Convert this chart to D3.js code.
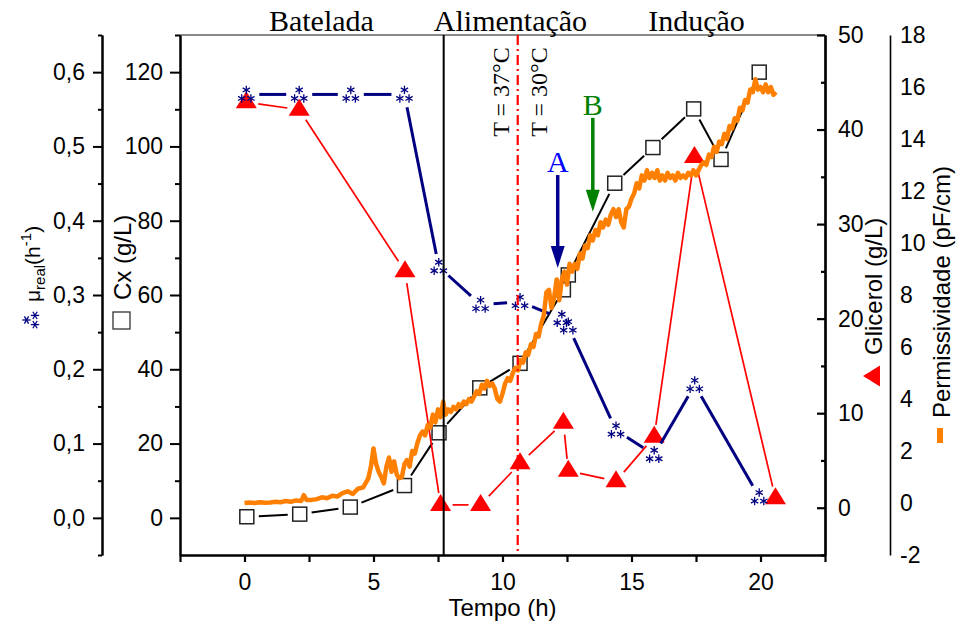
<!DOCTYPE html>
<html>
<head>
<meta charset="utf-8">
<script src="https://cdn.jsdelivr.net/npm/d3@7"></script>
<style>
  body { margin: 0; background: #fff; }
  svg { display: block; }
  .tick text { font-family: "Liberation Sans", Arial, sans-serif; font-size: 23px; fill: #000; }
</style>
</head>
<body>
<div id="root"></div>
<script>

// Cx (g/L), open squares
const cxTime = [0.09, 2.14, 4.1, 6.2, 7.54, 9.12, 10.68, 12.36, 12.55, 14.35, 15.83, 17.41, 18.47, 19.95];
const cxVal  = [0.3, 1.0, 2.9, 8.7, 22.9, 35.0, 41.6, 61.4, 65.4, 90.1, 99.7, 110.1, 96.5, 120.0];

// Glicerol (g/L), red triangles
const glyTime = [0.07, 2.12, 6.22, 7.6, 9.15, 10.68, 12.36, 12.55, 14.4, 15.88, 17.44, 20.58];
const glyVal  = [42.9, 42.1, 25.0, 0.3, 0.3, 4.7, 9.0, 3.9, 2.8, 7.5, 37.1, 1.0];

// mu real (h^-1), navy stars
const muTime = [0.07, 2.12, 4.12, 6.2, 7.53, 9.15, 10.68, 12.3, 12.55, 14.4, 15.88, 17.45, 19.95];
const muVal  = [0.570, 0.570, 0.570, 0.570, 0.338, 0.287, 0.291, 0.268, 0.258, 0.118, 0.085, 0.179, 0.028];

// Permissividade (pF/cm), orange trace
const permTime = [0, 0.2, 0.4, 0.6, 0.8, 1.0, 1.2, 1.4, 1.6, 1.8, 2.0, 2.2, 2.3, 2.4, 2.6, 2.8, 3.0, 3.2, 3.4, 3.6, 3.8,
  4.0, 4.2, 4.4, 4.6, 4.8, 4.9, 5.0, 5.1, 5.2, 5.3, 5.4, 5.5, 5.6, 5.7, 5.8, 5.9, 6.0, 6.1, 6.2, 6.3, 6.4, 6.5, 6.6, 6.7, 6.8, 6.9,
  7.0, 7.1, 7.2, 7.3, 7.4, 7.5, 7.6, 7.7, 7.8, 7.9, 8.0, 8.1, 8.2, 8.3, 8.4, 8.5, 8.6, 8.7, 8.8, 8.9, 9.0, 9.1, 9.2, 9.3, 9.4, 9.5, 9.6, 9.7, 9.8, 9.9,
  10.0, 10.1, 10.2, 10.3, 10.4, 10.5, 10.6, 10.7, 10.8, 10.9, 11.0, 11.1, 11.2, 11.3, 11.4, 11.5, 11.6, 11.7, 11.8, 11.9,
  12.0, 12.1, 12.2, 12.3, 12.4, 12.5, 12.6, 12.7, 12.8, 12.9, 13.0, 13.1, 13.2, 13.3, 13.4, 13.5, 13.6, 13.7, 13.8, 13.9,
  14.0, 14.1, 14.2, 14.3, 14.4, 14.5, 14.6, 14.7, 14.8, 14.9, 15.0, 15.1, 15.2, 15.3, 15.4, 15.5, 15.6, 15.7, 15.8, 15.9,
  16.0, 16.1, 16.2, 16.3, 16.4, 16.5, 16.6, 16.7, 16.8, 16.9, 17.0, 17.1, 17.2, 17.3, 17.4, 17.5, 17.6, 17.7, 17.8, 17.9,
  18.0, 18.1, 18.2, 18.3, 18.4, 18.5, 18.6, 18.7, 18.8, 18.9, 19.0, 19.1, 19.2, 19.3, 19.4, 19.5, 19.6, 19.7, 19.8, 19.9,
  20.0, 20.1, 20.2, 20.3, 20.4, 20.5, 20.6];
const permVal = [0.0, 0.02, 0.0, 0.03, 0.01, 0.02, 0.05, 0.03, 0.08, 0.05, 0.1, 0.08, 0.3, 0.12, 0.12, 0.15, 0.22, 0.18, 0.28, 0.25, 0.38,
  0.45, 0.35, 0.55, 0.6, 0.95, 1.4, 2.1, 1.5, 1.2, 1.0, 0.75, 1.4, 1.75, 1.2, 1.6, 1.1, 0.95, 1.0, 1.5, 1.65, 1.4, 2.0, 1.9, 2.3, 2.6, 2.75,
  2.6, 3.0, 2.9, 3.4, 3.1, 3.6, 3.3, 3.9, 3.4, 3.6, 3.5, 3.7, 3.6, 3.8, 3.7, 3.9, 3.8, 4.0, 3.9, 4.1, 4.3, 4.2, 4.55, 4.4, 4.7, 4.5, 4.6, 4.4, 4.0, 3.9,
  4.2, 4.6, 4.8, 4.7, 5.0, 5.2, 5.1, 5.5, 5.4, 5.8, 5.7, 6.1, 6.0, 6.5, 6.4, 6.9, 7.2, 8.1, 8.2, 7.5,
  7.9, 8.6, 7.8, 8.6, 8.9, 8.4, 9.2, 8.9, 9.2, 9.0, 9.6, 9.4, 9.9, 9.8, 10.3, 10.1, 10.5, 10.3, 10.8, 10.6,
  10.9, 10.7, 11.1, 11.3, 11.0, 11.3, 10.8, 10.6, 11.3, 11.4, 11.7, 11.9, 12.3, 12.1, 12.6, 12.4, 12.8, 12.5, 12.7, 12.5,
  12.8, 12.4, 12.6, 12.4, 12.7, 12.5, 12.6, 12.4, 12.7, 12.5, 12.6, 12.5, 12.7, 12.6, 12.8, 12.6, 12.8, 13.0, 13.1, 13.0,
  13.4, 13.3, 13.7, 13.5, 13.9, 13.8, 14.2, 14.0, 14.5, 14.4, 14.8, 14.7, 15.2, 15.1, 15.5, 15.4, 15.9, 15.8, 16.3, 15.9,
  16.0, 15.8, 16.1, 15.8, 16.0, 15.7, 15.8];

// ticks
const xTicks = [0, 5, 10, 15, 20];
const xMinor = [-2.5, 2.5, 7.5, 12.5, 17.5, 22.5];
const cxTicks = [0, 20, 40, 60, 80, 100, 120];
const cxMinor = [10, 30, 50, 70, 90, 110, 130];
const muTicks = [0, 0.1, 0.2, 0.3, 0.4, 0.5, 0.6];
const muMinor = [-0.05, 0.05, 0.15, 0.25, 0.35, 0.45, 0.55, 0.65];
const glyTicks = [0, 10, 20, 30, 40, 50];
const glyMinor = [-5, 5, 15, 25, 35, 45];
const permTicks = [-2, 0, 2, 4, 6, 8, 10, 12, 14, 16, 18];

// phases / annotations
const phaseNames = ["Batelada", "Alimentação", "Indução"];
const phaseCenter = [2.98, 10.31, 17.52];
const feedStart = 7.72;
const tempChange = 10.59;

const width = 959;
const height = 625;

const svg = d3.select("#root")
  .append("svg")
    .attr("width", width)
    .attr("height", height);

const x = d3.scaleLinear().domain([-2.5, 22.5]).range([180, 825]);
const yCx = d3.scaleLinear().domain([-10, 130]).range([555, 35]);
const yMu = d3.scaleLinear().domain([-0.05, 0.65]).range([555, 35]);
const yGly = d3.scaleLinear().domain([-5, 50]).range([555, 35]);
const yPerm = d3.scaleLinear().domain([-2, 18]).range([555, 35]);

const comma = d => d3.format(".1f")(d).replace(".", ",");
const plain = d => String(d);
const sans = '"Liberation Sans", Arial, sans-serif';
const serif = '"Liberation Serif", "Times New Roman", serif';

const styleAxis = (g, w) => {
  g.selectAll("path, line").attr("stroke", "#000").attr("stroke-width", w);
};

// top border (grey)
svg.append("line")
  .attr("x1", 180).attr("x2", 825).attr("y1", 35).attr("y2", 35)
  .attr("stroke", "#8a8a8a").attr("stroke-width", 2);

// x axis
svg.append("g").attr("transform", "translate(0,555)")
  .call(d3.axisBottom(x).tickValues(xTicks).tickSize(7).tickSizeOuter(0).tickPadding(12).tickFormat(plain))
  .call(g => styleAxis(g, 2.2));
svg.append("g").attr("transform", "translate(0,555)")
  .call(d3.axisBottom(x).tickValues(xMinor).tickSize(7).tickSizeOuter(0).tickFormat(""))
  .call(g => styleAxis(g, 2.2));

// Cx axis
svg.append("g").attr("transform", "translate(180,0)")
  .call(d3.axisLeft(yCx).tickValues(cxTicks).tickSize(10).tickSizeOuter(0).tickPadding(7).tickFormat(plain))
  .call(g => styleAxis(g, 2));
svg.append("g").attr("transform", "translate(180,0)")
  .call(d3.axisLeft(yCx).tickValues(cxMinor).tickSize(5).tickSizeOuter(0).tickFormat(""))
  .call(g => styleAxis(g, 2));

// mu axis
svg.append("g").attr("transform", "translate(102,0)")
  .call(d3.axisLeft(yMu).tickValues(muTicks).tickSize(9).tickSizeOuter(0).tickPadding(8).tickFormat(comma))
  .call(g => styleAxis(g, 2));
svg.append("g").attr("transform", "translate(102,0)")
  .call(d3.axisLeft(yMu).tickValues(muMinor).tickSize(4).tickSizeOuter(0).tickFormat(""))
  .call(g => styleAxis(g, 2));

// glicerol axis (ticks point inward)
svg.append("g").attr("transform", "translate(825,0)")
  .call(d3.axisRight(yGly).tickValues(glyTicks).tickSizeInner(-8).tickSizeOuter(0).tickPadding(13).tickFormat(plain))
  .call(g => styleAxis(g, 2.2));
svg.append("g").attr("transform", "translate(825,0)")
  .call(d3.axisRight(yGly).tickValues(glyMinor).tickSizeInner(-4).tickSizeOuter(0).tickFormat(""))
  .call(g => styleAxis(g, 2.2));

// permissividade axis
svg.append("g").attr("transform", "translate(890,0)")
  .call(d3.axisRight(yPerm).tickValues(permTicks).tickSize(0).tickPadding(10).tickFormat(plain))
  .call(g => styleAxis(g, 1.6));

// line segments with a gap round each marker
const gapSegs = (pts, gap) => d3.pairs(pts).map(([a, b]) => {
  const dx = b[0] - a[0], dy = b[1] - a[1];
  const len = Math.hypot(dx, dy);
  if (len <= 2 * gap) return null;
  const ux = dx / len, uy = dy / len;
  return [a[0] + ux * gap, a[1] + uy * gap, b[0] - ux * gap, b[1] - uy * gap];
}).filter(s => s);

const drawSegs = (pts, gap, color, w) => {
  svg.append("g")
    .selectAll("line")
    .data(gapSegs(pts, gap))
    .join("line")
      .attr("x1", d => d[0]).attr("y1", d => d[1])
      .attr("x2", d => d[2]).attr("y2", d => d[3])
      .attr("stroke", color)
      .attr("stroke-width", w);
};

const trianglePath = "M0,-11L10.5,6L-10.5,6Z";

const drawStar = (g, color) => {
  [[0, -4.5], [-4.6, 4], [4.6, 4]].forEach(([ox, oy]) => {
    [90, 30, 150].forEach(a => {
      const r = 4.2, rad = a * Math.PI / 180;
      g.append("line")
        .attr("x1", ox - r * Math.cos(rad)).attr("y1", oy - r * Math.sin(rad))
        .attr("x2", ox + r * Math.cos(rad)).attr("y2", oy + r * Math.sin(rad))
        .attr("stroke", color).attr("stroke-width", 1.3);
    });
  });
};

// Cx series
const cxPts = cxTime.map((t, i) => [x(t), yCx(cxVal[i])]);
drawSegs(cxPts, 12, "#000", 2);
svg.append("g")
  .selectAll("rect")
  .data(cxPts)
  .join("rect")
    .attr("x", d => d[0] - 7).attr("y", d => d[1] - 7)
    .attr("width", 14).attr("height", 14)
    .attr("fill", "none")
    .attr("stroke", "#222")
    .attr("stroke-width", 1.5);

// glicerol series
const glyPts = glyTime.map((t, i) => [x(t), yGly(glyVal[i])]);
drawSegs(glyPts, 12, "#ff0000", 1.7);
svg.append("g")
  .selectAll("path")
  .data(glyPts)
  .join("path")
    .attr("d", trianglePath)
    .attr("transform", d => `translate(${ d[0] }, ${ d[1] })`)
    .attr("fill", "#ff0000");

// mu series
const muPts = muTime.map((t, i) => [x(t), yMu(muVal[i])]);
drawSegs(muPts, 13, "#000080", 3);
svg.append("g")
  .selectAll("g")
  .data(muPts)
  .join("g")
    .attr("transform", d => `translate(${ d[0] }, ${ d[1] })`)
    .each(function() { drawStar(d3.select(this), "#000080"); });

// permissividade trace
const permLine = d3.line()
  .x((d, i) => x(permTime[i]))
  .y(d => yPerm(d));
svg.append("path")
  .datum(permVal)
  .attr("d", permLine)
  .attr("fill", "none")
  .attr("stroke", "#ff8000")
  .attr("stroke-width", 4.5)
  .attr("stroke-linejoin", "round");

// phase separators
svg.append("line")
  .attr("x1", x(feedStart)).attr("x2", x(feedStart)).attr("y1", 35).attr("y2", 555)
  .attr("stroke", "#000").attr("stroke-width", 2);
svg.append("line")
  .attr("x1", x(tempChange)).attr("x2", x(tempChange)).attr("y1", 35).attr("y2", 555)
  .attr("stroke", "#ff0000").attr("stroke-width", 2.2)
  .attr("stroke-dasharray", "10,4,2,4");

// phase names
svg.append("g")
  .selectAll("text")
  .data(phaseNames)
  .join("text")
    .attr("x", (d, i) => x(phaseCenter[i]))
    .attr("y", 31)
    .attr("text-anchor", "middle")
    .attr("font-family", serif)
    .attr("font-size", 30)
    .text(d => d);

// temperature labels
[["T = 37°C", 10.27], ["T = 30°C", 11.74]].forEach(([label, t]) => {
  svg.append("text")
    .attr("transform", `translate(${ x(t) }, 92) rotate(-90)`)
    .attr("text-anchor", "middle")
    .attr("font-family", serif)
    .attr("font-size", 24)
    .text(label);
});

// arrows A and B
const arrow = (t, cTop, cTip, color, labelColor, label) => {
  const ax = x(t), y0 = yCx(cTop), y1 = yCx(cTip);
  svg.append("line")
    .attr("x1", ax).attr("x2", ax).attr("y1", y0).attr("y2", y1 - 18)
    .attr("stroke", color).attr("stroke-width", 3.5);
  svg.append("path")
    .attr("d", `M${ ax - 7 },${ y1 - 22 }L${ ax + 7 },${ y1 - 22 }L${ ax },${ y1 }Z`)
    .attr("fill", color);
  svg.append("text")
    .attr("x", ax).attr("y", y0 - 3)
    .attr("text-anchor", "middle")
    .attr("font-family", serif)
    .attr("font-size", 30)
    .attr("fill", labelColor)
    .text(label);
};
arrow(12.14, 92.3, 67.3, "#000090", "#0000ff", "A");
arrow(13.5, 107.7, 82.4, "#008000", "#008000", "B");

// axis titles
svg.append("text")
  .attr("x", x(10)).attr("y", 616)
  .attr("text-anchor", "middle")
  .attr("font-family", sans).attr("font-size", 24)
  .text("Tempo (h)");

const cxTitle = svg.append("g").attr("transform", "translate(131,329) rotate(-90)");
cxTitle.append("rect")
  .attr("x", 0).attr("y", -18).attr("width", 17).attr("height", 17)
  .attr("fill", "none").attr("stroke", "#333").attr("stroke-width", 1.3);
cxTitle.append("text")
  .attr("x", 29).attr("y", 0)
  .attr("font-family", sans).attr("font-size", 24)
  .text("Cx (g/L)");

const muTitle = svg.append("g").attr("transform", "translate(40,330) rotate(-90)");
drawStar(muTitle.append("g").attr("transform", "translate(10,-9)"), "#000080");
const muText = muTitle.append("text")
  .attr("x", 28).attr("y", 0)
  .attr("font-family", sans).attr("font-size", 21);
muText.append("tspan").text("μ");
muText.append("tspan").attr("dy", 5).attr("font-size", 15).text("real");
muText.append("tspan").attr("dy", -5).text("(h");
muText.append("tspan").attr("dy", -9).attr("font-size", 15).text("-1");
muText.append("tspan").attr("dy", 9).text(")");

const glyTitle = svg.append("g").attr("transform", "translate(882,385) rotate(-90)");
glyTitle.append("path")
  .attr("d", trianglePath)
  .attr("transform", "translate(9,-8)")
  .attr("fill", "#ff0000");
glyTitle.append("text")
  .attr("x", 30).attr("y", 0)
  .attr("font-family", sans).attr("font-size", 24)
  .text("Glicerol (g/L)");

const permTitle = svg.append("g").attr("transform", "translate(950,443) rotate(-90)");
permTitle.append("rect")
  .attr("x", 0).attr("y", -13).attr("width", 15).attr("height", 6)
  .attr("fill", "#ff8000");
permTitle.append("text")
  .attr("x", 25).attr("y", 0)
  .attr("font-family", sans).attr("font-size", 24)
  .text("Permissividade (pF/cm)");

</script>
</body>
</html>
